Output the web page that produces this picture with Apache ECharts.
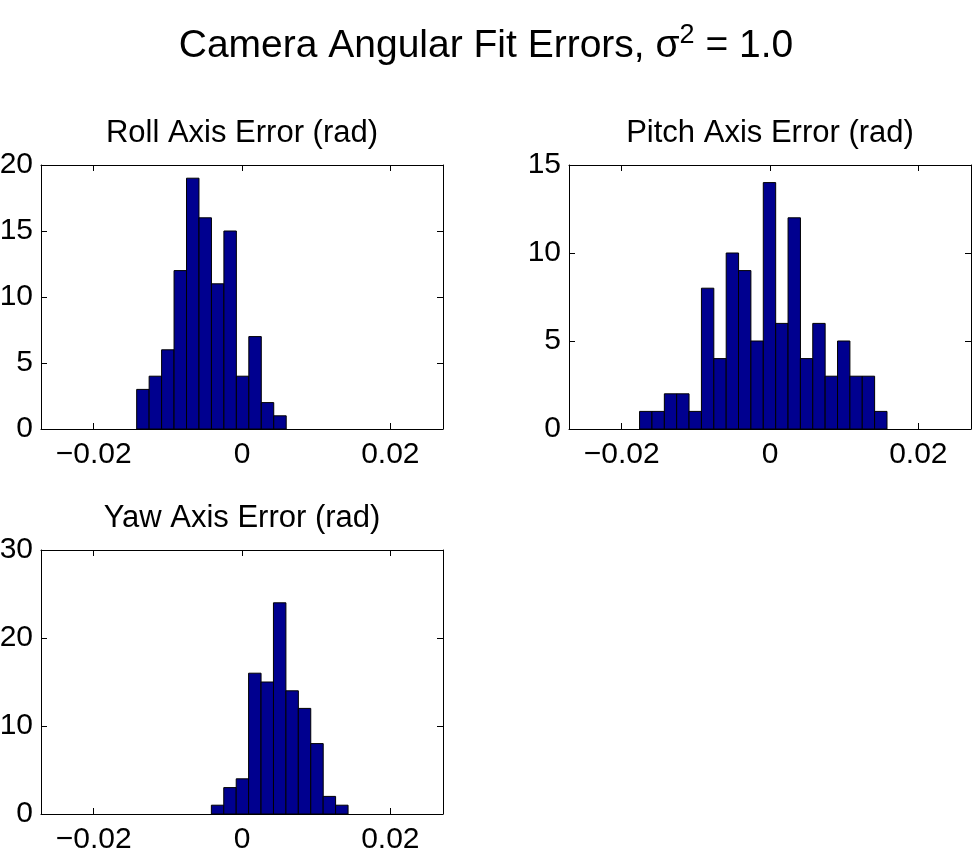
<html>
<head>
<meta charset="utf-8">
<script src="https://cdn.jsdelivr.net/npm/echarts@6/dist/echarts.min.js"></script>
<style>
  body { margin: 0; background: #fff; }
  #main { width: 980px; height: 850px; }
</style>
</head>
<body>
<div id="main"></div>
<script>
// bin centres (rad) and counts
var rollX = [-0.01336, -0.01168, -0.01000, -0.00832, -0.00664, -0.00496, -0.00328, -0.00160, 0.00008, 0.00176, 0.00344, 0.00512];
var rollN = [3, 4, 6, 12, 19, 16, 11, 15, 4, 7, 2, 1];

var pitchX = [-0.01675, -0.01508, -0.01341, -0.01175, -0.01008, -0.00841, -0.00674, -0.00507, -0.00341, -0.00174,
              -0.00007, 0.00160, 0.00327, 0.00493, 0.00660, 0.00827, 0.00994, 0.01161, 0.01327, 0.01494];
var pitchN = [1, 1, 2, 2, 1, 8, 4, 10, 9, 5, 14, 6, 12, 4, 6, 3, 5, 3, 3, 1];

var yawX = [-0.00329, -0.00162, 0.00006, 0.00173, 0.00341, 0.00508, 0.00676, 0.00843, 0.01011, 0.01178, 0.01346];
var yawN = [1, 3, 4, 16, 15, 24, 14, 12, 8, 2, 1];

var binW = [0.00168, 0.00167, 0.00168];
var xTicks = [-0.02, 0, 0.02];
var yMax = [20, 15, 30];
var yStep = [5, 5, 10];

var font = '"Liberation Sans", Arial, Helvetica, sans-serif';

function pairs(xs, ns) {
  var out = [];
  for (var i = 0; i < xs.length; i++) out.push([xs[i], ns[i]]);
  return out;
}

function histItem(w) {
  return function (params, api) {
    var c = api.value(0), n = api.value(1);
    var p0 = api.coord([c - w / 2, n]);
    var p1 = api.coord([c + w / 2, 0]);
    return {
      type: 'rect',
      shape: { x: p0[0], y: p0[1], width: p1[0] - p0[0], height: p1[1] - p0[1] },
      style: { fill: '#00008F', stroke: '#000', lineWidth: 1 }
    };
  };
}

var grids = [
  { left: 41, top: 165, width: 402, height: 264, outerBoundsMode: 'none' },
  { left: 569, top: 165, width: 402, height: 264, outerBoundsMode: 'none' },
  { left: 41, top: 550, width: 402, height: 264, outerBoundsMode: 'none' }
];

var xAxes = [], yAxes = [];
grids.forEach(function (g, i) {
  var line = { show: true, onZero: false, lineStyle: { color: '#000', width: 1 } };
  xAxes.push({
    type: 'value', gridIndex: i, position: 'bottom', min: -0.0271, max: 0.0271,
    axisLine: line, splitLine: { show: false },
    axisTick: { inside: true, length: 6, customValues: xTicks, lineStyle: { color: '#000' } },
    axisLabel: {
      customValues: xTicks, color: '#000', fontSize: 30, fontFamily: font, margin: 11,
      formatter: function (v) { return String(v).replace('-', '\u2212'); }
    }
  });
  xAxes.push({
    type: 'value', gridIndex: i, position: 'top', min: -0.0271, max: 0.0271,
    axisLine: line, splitLine: { show: false },
    axisTick: { inside: true, length: 6, customValues: xTicks, lineStyle: { color: '#000' } },
    axisLabel: { show: false }
  });
  yAxes.push({
    type: 'value', gridIndex: i, position: 'left', min: 0, max: yMax[i], interval: yStep[i],
    axisLine: line, splitLine: { show: false },
    axisTick: { inside: true, length: 6, lineStyle: { color: '#000' } },
    axisLabel: { color: '#000', fontSize: 30, fontFamily: font, margin: 8 }
  });
  yAxes.push({
    type: 'value', gridIndex: i, position: 'right', min: 0, max: yMax[i], interval: yStep[i],
    axisLine: line, splitLine: { show: false },
    axisTick: { inside: true, length: 6, lineStyle: { color: '#000' } },
    axisLabel: { show: false }
  });
});

var chart = echarts.init(document.getElementById('main'));
chart.setOption({
  backgroundColor: '#fff',
  animation: false,
  grid: grids,
  xAxis: xAxes,
  yAxis: yAxes,
  graphic: [
    {
      type: 'text', x: 486, y: 46,
      style: {
        text: '{a|Camera Angular Fit Errors, σ}{s|2}{a| = 1.0}',
        align: 'center', verticalAlign: 'middle',
        rich: {
          a: { fontSize: 39, fontFamily: font, fill: '#000' },
          s: { fontSize: 27, fontFamily: font, fill: '#000', padding: [0, 0, 20, 0] }
        }
      }
    },
    { type: 'text', x: 242, y: 133, style: { text: 'Roll Axis Error (rad)', font: '31px ' + font, fill: '#000', align: 'center', verticalAlign: 'middle' } },
    { type: 'text', x: 770, y: 133, style: { text: 'Pitch Axis Error (rad)', font: '31px ' + font, fill: '#000', align: 'center', verticalAlign: 'middle' } },
    { type: 'text', x: 242, y: 518, style: { text: 'Yaw Axis Error (rad)', font: '31px ' + font, fill: '#000', align: 'center', verticalAlign: 'middle' } }
  ],
  series: [
    { type: 'custom', xAxisIndex: 0, yAxisIndex: 0, renderItem: histItem(binW[0]), data: pairs(rollX, rollN) },
    { type: 'custom', xAxisIndex: 2, yAxisIndex: 2, renderItem: histItem(binW[1]), data: pairs(pitchX, pitchN) },
    { type: 'custom', xAxisIndex: 4, yAxisIndex: 4, renderItem: histItem(binW[2]), data: pairs(yawX, yawN) }
  ]
});
</script>
</body>
</html>
